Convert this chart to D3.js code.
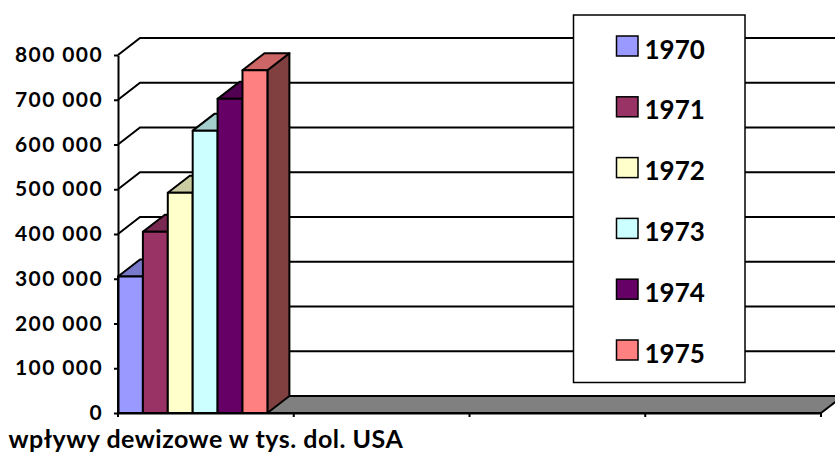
<!DOCTYPE html>
<html>
<head>
<meta charset="utf-8">
<script src="https://cdn.jsdelivr.net/npm/d3@7/dist/d3.min.js"></script>
<style>
  html, body { margin: 0; padding: 0; background: #fff; }
  svg { display: block; }
  text { font-family: Lato, "Open Sans", sans-serif; font-weight: bold; fill: #000; }
</style>
</head>
<body>
<svg id="chart" width="835" height="456"></svg>
<script>
// Series: one bar per year, all in the first category
const years = ["1970", "1971", "1972", "1973", "1974", "1975"];
const values = [305000, 405000, 492000, 631000, 702000, 766000];
const colors = ["#9999FF", "#993366", "#FFFFCC", "#CCFFFF", "#660066", "#FF8080"];
const categories = ["wpływy dewizowe w tys. dol. USA", "", "", ""];
const yTicks = [0, 100000, 200000, 300000, 400000, 500000, 600000, 700000, 800000];

const plotLeft = 118, plotRight = 821, plotBottom = 413, plotTop = 55;
const dx = 22, dy = -17;           // depth offset of the oblique 3D view
const wallRight = plotRight + dx + 10;

const svg = d3.select("#chart");

const y = d3.scaleLinear().domain([0, 800000]).range([plotBottom, plotTop]);
const x = d3.scaleBand().domain(d3.range(categories.length)).range([plotLeft, plotRight]).paddingInner(0).paddingOuter(0);
const xs = d3.scaleBand().domain(years).range([0, x.bandwidth() * 0.85]);
const fmt = v => d3.format(",")(v).replace(/,/g, " ");

// Back wall gridlines, joined to the front axis by the side-wall diagonals
const grid = svg.append("g");
yTicks.forEach(v => {
  const yy = y(v);
  grid.append("path")
    .attr("d", `M${plotLeft},${yy}L${plotLeft + dx},${yy + dy}L${wallRight},${yy + dy}`)
    .attr("fill", "none").attr("stroke", "#000").attr("stroke-width", 2);
});

// Floor
svg.append("path")
  .attr("d", `M${plotLeft},${plotBottom}L${plotRight},${plotBottom}L${plotRight + dx},${plotBottom + dy}L${plotLeft + dx},${plotBottom + dy}Z`)
  .attr("fill", "#808080").attr("stroke", "#000").attr("stroke-width", 2).attr("stroke-linejoin", "round");

// 3D columns: side face, top face, then front face
const shade = (c, k) => { const r = d3.rgb(c); return d3.rgb(r.r * k, r.g * k, r.b * k).formatHex(); };
const bars = svg.append("g");
years.forEach((yr, i) => {
  const x0 = x(0) + xs(yr), x1 = x0 + xs.bandwidth();
  const y0 = y(0), y1 = y(values[i]);
  const g = bars.append("g").attr("stroke", "#000").attr("stroke-width", 2).attr("stroke-linejoin", "round");
  g.append("path")
    .attr("d", `M${x1},${y1}L${x1 + dx},${y1 + dy}L${x1 + dx},${y0 + dy}L${x1},${y0}Z`)
    .attr("fill", shade(colors[i], 0.5));
  g.append("path")
    .attr("d", `M${x0},${y1}L${x0 + dx},${y1 + dy}L${x1 + dx},${y1 + dy}L${x1},${y1}Z`)
    .attr("fill", shade(colors[i], 0.8));
  g.append("rect")
    .attr("x", x0).attr("y", y1).attr("width", x1 - x0).attr("height", y0 - y1)
    .attr("fill", colors[i]);
});

// Value axis
const yAxis = svg.append("g").attr("transform", `translate(${plotLeft},0)`)
  .call(d3.axisLeft(y).tickValues(yTicks).tickFormat(fmt).tickSizeInner(4).tickSizeOuter(0).tickPadding(11));
yAxis.select(".domain").attr("stroke", "#000").attr("stroke-width", 2);
yAxis.selectAll(".tick line").attr("stroke", "#000").attr("stroke-width", 2);
yAxis.selectAll(".tick text")
  .style("font-family", "Lato, sans-serif").style("font-weight", "bold")
  .style("font-size", "21px").style("letter-spacing", "1.4px").attr("fill", "#000");

// Category axis
const xAxis = svg.append("g").attr("transform", `translate(0,${plotBottom})`)
  .call(d3.axisBottom(x).tickFormat(i => categories[i]).tickSize(0).tickPadding(17));
xAxis.select(".domain").attr("stroke", "#000").attr("stroke-width", 2);
xAxis.selectAll(".tick text")
  .style("font-family", "Lato, sans-serif").style("font-weight", "bold")
  .style("font-size", "25px").style("letter-spacing", "0.5px").attr("fill", "#000");
const bounds = d3.range(categories.length + 1).map(i => i < categories.length ? x(i) : plotRight);
svg.append("g").selectAll("line").data(bounds).join("line")
  .attr("x1", d => d).attr("x2", d => d).attr("y1", plotBottom).attr("y2", plotBottom + 4)
  .attr("stroke", "#000").attr("stroke-width", 2);

// Legend
const lg = svg.append("g").attr("transform", "translate(573.5,15)");
lg.append("rect").attr("width", 171.5).attr("height", 367.5)
  .attr("fill", "#fff").attr("stroke", "#000").attr("stroke-width", 1.5);
years.forEach((yr, i) => {
  const cy = 31 + i * 60.8;
  lg.append("rect").attr("x", 43).attr("y", cy - 10).attr("width", 21.5).attr("height", 20)
    .attr("fill", colors[i]).attr("stroke", "#000").attr("stroke-width", 1.5);
  lg.append("text").attr("x", 71).attr("y", cy + 12.5)
    .style("font-size", "26px").text(yr);
});
</script>
</body>
</html>
